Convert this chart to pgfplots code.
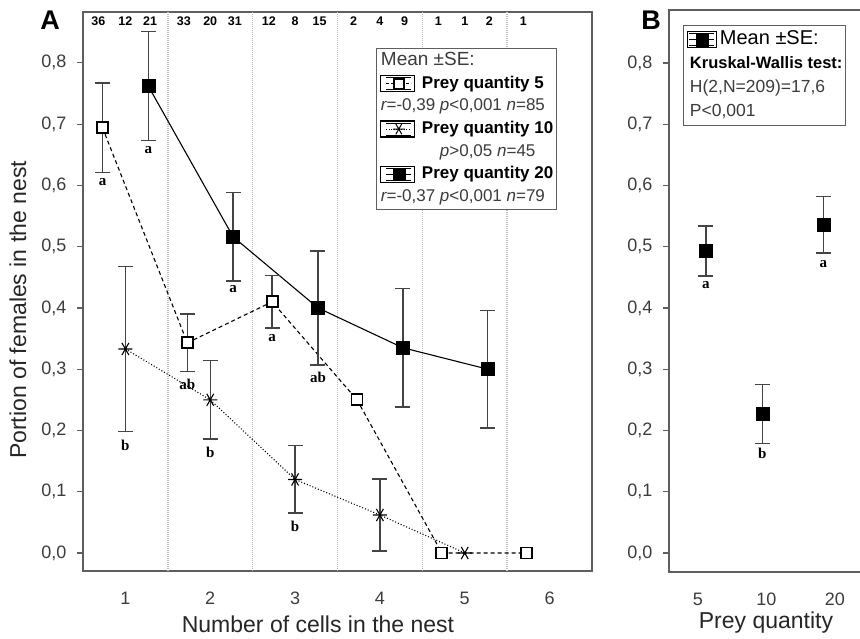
\documentclass[border=0pt]{standalone}
\usepackage{fontspec}
\setmainfont{Liberation Sans}
\newfontfamily\lserif{Liberation Serif}
\usepackage{pgfplots}
\usepackage{pgfplotstable}
\pgfplotsset{compat=1.18}
\definecolor{axgray}{HTML}{5E5E5E}
\definecolor{txtgray}{HTML}{3C3C3C}
\definecolor{gridgray}{HTML}{BEBEBE}
\definecolor{errgray}{HTML}{444444}
\newcommand{\fs}[1]{\fontsize{#1}{#1}\selectfont}
\newcommand{\lt}[1]{{\lserif\bfseries\fs{15}#1}}

\pgfplotstableread{
x y e
0.73 0.694 0.073
1.73 0.343 0.047
2.73 0.410 0.043
3.73 0.250 0
4.73 0.000 0
5.73 0.000 0
}\preyfive
\pgfplotstableread{
x y e
1 0.333 0.135
2 0.250 0.064
3 0.120 0.055
4 0.062 0.059
5 0.000 0
}\preyten
\pgfplotstableread{
x y e
1.27 0.762 0.089
2.27 0.516 0.072
3.27 0.400 0.093
4.27 0.335 0.097
5.27 0.300 0.096
}\preytwenty
\pgfplotstableread{
x y e
1.117 0.493 0.041
1.942 0.227 0.048
2.832 0.536 0.046
}\preyall

\pgfplotsset{
  panel/.style={
    scale only axis, anchor=south west,
    axis line style={axgray, line width=1.6pt},
    tick align=outside, major tick length=6pt,
    ytick pos=left, xtick pos=bottom,
    xtick style={draw=none},
    ytick style={axgray, line width=1.2pt},
    ytick={0,0.1,0.2,0.3,0.4,0.5,0.6,0.7,0.8},
    /pgf/number format/assume math mode=true,
    yticklabel style={font=\fs{18}, text=txtgray, /pgf/number format/fixed, /pgf/number format/fixed zerofill, /pgf/number format/precision=1, /pgf/number format/use comma, xshift=-7pt},
    xticklabel style={font=\fs{18}, text=txtgray, anchor=base, yshift=-28pt},
    clip=false,
  },
  errs/.style={draw=none, forget plot,
    error bars/y dir=both, error bars/y explicit,
    error bars/error bar style={draw=errgray, solid, line width=1.4pt},
    error bars/error mark options={rotate=90, mark size=7.5pt, draw=errgray, line width=1.4pt, solid}},
}

\begin{document}
\begin{tikzpicture}
\useasboundingbox (0pt,0pt) rectangle (860pt,639pt);
\clip (0pt,0pt) rectangle (860pt,639pt);

% ---------------- Panel A ----------------
\begin{axis}[panel, at={(83pt,68pt)}, width=509pt, height=559pt,
  xmin=0.5, xmax=6.5, ymin=-0.0294, ymax=0.883,
  xtick={1,2,3,4,5,6},
  extra x ticks={1.5,2.5,3.5,4.5,5.5}, extra x tick labels={},
  extra x tick style={grid=major, major grid style={gridgray, line width=1.6pt, dash pattern=on 1pt off 1pt}, tick style={draw=none}},
  legend cell align=left,
  legend style={at={(0.5756,0.9356)}, anchor=north west, draw=axgray, line width=1.3pt, fill=white,
    inner xsep=3pt, inner ysep=4pt, row sep=5.5pt, font=\fs{17}, text=txtgray,
    nodes={inner xsep=0pt, inner ysep=0pt, text height=13pt, text depth=4pt},
    /tikz/every odd column/.append style={column sep=7pt}},
]
% lines
\addplot[forget plot, black, line width=1.1pt, dash pattern=on 4pt off 3pt, mark=none] table[x=x,y=y]{\preyfive};
\addplot[forget plot, black, line width=1.1pt, dash pattern=on 1pt off 2pt, mark=none] table[x=x,y=y]{\preyten};
\addplot[forget plot, black, line width=1.1pt, mark=none] table[x=x,y=y]{\preytwenty};
% error bars
\addplot[errs, skip coords between index={3}{6}] table[x=x,y=y,y error=e]{\preyfive};
\addplot[errs, skip coords between index={4}{5}] table[x=x,y=y,y error=e]{\preyten};
\addplot[errs] table[x=x,y=y,y error=e]{\preytwenty};
% markers
\addplot[forget plot, only marks, mark=square*, mark size=5.5pt, mark options={fill=white, draw=black, line width=1.8pt, solid}] table[x=x,y=y]{\preyfive};
\addplot[forget plot, only marks, mark=asterisk, mark size=7pt, mark options={draw=black, line width=1.1pt, solid, rotate=90}] table[x=x,y=y]{\preyten};
\addplot[forget plot, only marks, mark=square*, mark size=6.5pt, mark options={fill=black, draw=black, line width=0.5pt, solid}] table[x=x,y=y]{\preytwenty};

% letters
\node[inner sep=0pt] at (axis cs:0.73,0.606) {\lt{a}};
\node[inner sep=0pt] at (axis cs:1.73,0.276) {\lt{ab}};
\node[inner sep=0pt] at (axis cs:2.73,0.351) {\lt{a}};
\node[inner sep=0pt] at (axis cs:1,0.176) {\lt{b}};
\node[inner sep=0pt] at (axis cs:2,0.165) {\lt{b}};
\node[inner sep=0pt] at (axis cs:3,0.043) {\lt{b}};
\node[inner sep=0pt] at (axis cs:1.27,0.658) {\lt{a}};
\node[inner sep=0pt] at (axis cs:2.27,0.430) {\lt{a}};
\node[inner sep=0pt] at (axis cs:3.27,0.287) {\lt{ab}};

% counts
\begin{scope}[every node/.style={font=\bfseries\fs{12.5}, text=black, inner sep=0pt}]
\node at (axis cs:0.68,0.868) {36};
\node at (axis cs:1.00,0.868) {12};
\node at (axis cs:1.29,0.868) {21};
\node at (axis cs:1.69,0.868) {33};
\node at (axis cs:2.00,0.868) {20};
\node at (axis cs:2.29,0.868) {31};
\node at (axis cs:2.69,0.868) {12};
\node at (axis cs:3.00,0.868) {8};
\node at (axis cs:3.29,0.868) {15};
\node at (axis cs:3.69,0.868) {2};
\node at (axis cs:4.00,0.868) {4};
\node at (axis cs:4.29,0.868) {9};
\node at (axis cs:4.69,0.868) {1};
\node at (axis cs:5.00,0.868) {1};
\node at (axis cs:5.29,0.868) {2};
\node at (axis cs:5.69,0.868) {1};
\end{scope}

% legend
\addlegendimage{empty legend}
\addlegendentry{\hspace*{-41pt}\fs{19}Mean ±SE:}
\addlegendimage{legend image code/.code={
  \path (0pt,-8pt) rectangle (34pt,8pt);
  \draw[black, line width=1pt, solid] (6pt,6pt) -- (31pt,6pt);
  \draw[black, line width=1pt, solid] (6pt,-6pt) -- (31pt,-6pt);
  \draw[black, line width=1pt, dash pattern=on 3pt off 2pt] (6pt,0pt) -- (31pt,0pt);
  \draw[draw=none, mark=square*, mark size=5pt, mark options={fill=white, draw=black, line width=1.6pt, solid}] plot coordinates {(18.5pt,0pt)};
}}
\addlegendentry{\bfseries\color{black}Prey quantity 5}
\addlegendimage{empty legend}
\addlegendentry{\hspace*{-41pt}{\itshape r}=-0,39 {\itshape p}<0,001 {\itshape n}=85}
\addlegendimage{legend image code/.code={
  \path (0pt,-8pt) rectangle (34pt,8pt);
  \draw[black, line width=1pt, solid] (6pt,6pt) -- (31pt,6pt);
  \draw[black, line width=1pt, solid] (6pt,-6pt) -- (31pt,-6pt);
  \draw[black, line width=1pt, dash pattern=on 1pt off 1.5pt] (6pt,0pt) -- (31pt,0pt);
  \draw[draw=none, mark=asterisk, mark size=6pt, mark options={draw=black, line width=1pt, solid, rotate=90}] plot coordinates {(18.5pt,0pt)};
}}
\addlegendentry{\bfseries\color{black}Prey quantity 10}
\addlegendimage{empty legend}
\addlegendentry{\hspace*{18pt}{\itshape p}>0,05 {\itshape n}=45}
\addlegendimage{legend image code/.code={
  \path (0pt,-8pt) rectangle (34pt,8pt);
  \draw[black, line width=1pt, solid] (6pt,6pt) -- (31pt,6pt);
  \draw[black, line width=1pt, solid] (6pt,-6pt) -- (31pt,-6pt);
  \draw[black, line width=1pt, solid] (6pt,0pt) -- (31pt,0pt);
  \draw[draw=none, mark=square*, mark size=6pt, mark options={fill=black, draw=black, line width=0.5pt, solid}] plot coordinates {(18.5pt,0pt)};
}}
\addlegendentry{\bfseries\color{black}Prey quantity 20}
\addlegendimage{empty legend}
\addlegendentry{\hspace*{-41pt}{\itshape r}=-0,37 {\itshape p}<0,001 {\itshape n}=79}
\end{axis}

% ---------------- Panel B ----------------
\begin{axis}[panel, at={(669pt,67pt)}, width=200pt, height=562pt,
  xmin=0.577, xmax=3.5, ymin=-0.031, ymax=0.8865,
  xtick={1,2,3}, xticklabels={5,10,20},
  legend cell align=left,
  legend style={at={(0.07,0.973)}, anchor=north west, draw=axgray, line width=1.3pt, fill=white,
    inner xsep=3pt, inner ysep=5pt, row sep=6pt, font=\fs{17.5}, text=txtgray,
    nodes={inner xsep=0pt, inner ysep=0pt, text height=14pt, text depth=4pt},
    /tikz/every odd column/.append style={column sep=3pt}},
]
\addplot[errs] table[x=x,y=y,y error=e]{\preyall};
\addplot[forget plot, only marks, mark=square*, mark size=6.5pt, mark options={fill=black, draw=black, line width=0.5pt, solid}] table[x=x,y=y]{\preyall};
\node[inner sep=0pt] at (axis cs:1.117,0.438) {\lt{a}};
\node[inner sep=0pt] at (axis cs:1.942,0.162) {\lt{b}};
\node[inner sep=0pt] at (axis cs:2.832,0.472) {\lt{a}};

\addlegendimage{legend image code/.code={
  \path (0pt,-8pt) rectangle (29pt,8pt);
  \draw[black, line width=1pt, solid] (2pt,6pt) -- (27pt,6pt);
  \draw[black, line width=1pt, solid] (2pt,-6pt) -- (27pt,-6pt);
  \draw[black, line width=1pt, solid] (2pt,0pt) -- (27pt,0pt);
  \draw[draw=none, mark=square*, mark size=6pt, mark options={fill=black, draw=black, line width=0.5pt, solid}] plot coordinates {(14.5pt,0pt)};
}}
\addlegendentry{\fs{20}\color{black}Mean ±SE:}
\addlegendimage{empty legend}
\addlegendentry{\hspace*{-30pt}\bfseries\fs{16.5}\color{black}Kruskal-Wallis test:}
\addlegendimage{empty legend}
\addlegendentry{\hspace*{-30pt}H(2,N=209)=17,6}
\addlegendimage{empty legend}
\addlegendentry{\hspace*{-30pt}P<0,001}
\end{axis}

% panel letters and axis titles
\node[font=\bfseries\fs{27}, inner sep=0pt] at (50pt,619pt) {A};
\node[font=\bfseries\fs{27}, inner sep=0pt] at (651pt,619pt) {B};
\node[font=\fs{23}, text=black!85, inner sep=0pt] at (318pt,15pt) {Number of cells in the nest};
\node[font=\fs{23}, text=black!85, inner sep=0pt, rotate=90] at (18pt,329pt) {Portion of females in the nest};
\node[font=\fs{23}, text=black!85, inner sep=0pt] at (766pt,16pt) {Prey quantity};
\end{tikzpicture}
\end{document}
